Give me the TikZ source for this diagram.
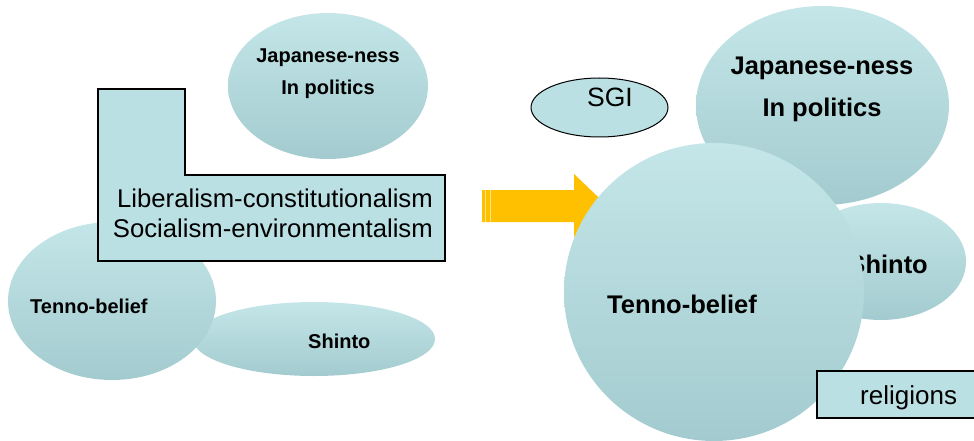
\documentclass[tikz,border=0pt]{standalone}
\usepackage{fontspec}
\setmainfont{Liberation Sans}
\usetikzlibrary{shapes.geometric}
\definecolor{tealtop}{HTML}{C4E6E8}
\definecolor{tealmid}{HTML}{BBE0E3}
\definecolor{tealbot}{HTML}{A3CBCF}
\definecolor{boxfill}{HTML}{BAE0E3}
\definecolor{arrowyellow}{HTML}{FFC000}
\definecolor{arrowstripe}{HTML}{FFE38C}
\begin{document}
\begin{tikzpicture}[x=1pt,y=-1pt,
  blob/.style={ellipse, inner sep=0pt, draw=none,
    top color=tealtop, middle color=tealmid, bottom color=tealbot},
  boldtext/.style={inner sep=0pt, font=\bfseries\fontsize{#1}{#1}\selectfont},
  plaintext/.style={inner sep=0pt, font=\fontsize{#1}{#1}\selectfont},
  outlined/.style={draw=black, line width=1.2pt, fill=boxfill}]
\useasboundingbox (0,0) rectangle (974,441);

% ---- left cluster ----
\node[blob, minimum width=242pt, minimum height=74pt] (shintoL) at (314,339) {};
\node[blob, minimum width=208pt, minimum height=158pt] (tennoL) at (112,301) {};
\node[blob, minimum width=200pt, minimum height=146pt] (japanL) at (328,86) {};

% L-shaped text panel
\draw[outlined] (98,89) -- (185,89) -- (185,175) -- (445,175) -- (445,261) -- (98,261) -- cycle;
\node[plaintext=25.7, anchor=base east] (lib) at (433,207) {Liberalism-constitutionalism};
\node[plaintext=25.7, anchor=base east] (soc) at (433,237) {Socialism-environmentalism};

\node[boldtext=20, anchor=base] (japL1) at (328,63) {Japanese-ness};
\node[boldtext=20, anchor=base] (japL2) at (328,95) {In politics};
\node[boldtext=20, anchor=base west] (tenL) at (30,313) {Tenno-belief};
\node[boldtext=20, anchor=base west] (shiL) at (308,348) {Shinto};

% ---- block arrow ----
\fill[arrowyellow] (482,190) -- (574,190) -- (574,174) -- (607,205.5)
  -- (574,237) -- (574,222) -- (482,222) -- cycle;
\draw[arrowstripe, line width=0.9pt] (485.3,190) -- (485.3,222);
\draw[arrowstripe, line width=0.9pt] (490.3,190) -- (490.3,222);

% ---- right cluster ----
\node[ellipse, draw=black, line width=1pt, fill=boxfill, inner sep=0pt,
  minimum width=137pt, minimum height=59pt] (sgi) at (599.5,107.5) {};
\node[plaintext=26.5, anchor=base] (sgiT) at (610,107) {SGI};

\node[blob, minimum width=253pt, minimum height=199pt] (japR) at (822.5,105.5) {};
\node[boldtext=25.5, anchor=base] (japR1) at (822,75) {Japanese-ness};
\node[boldtext=25.5, anchor=base] (japR2) at (822,117) {In politics};

\node[blob, minimum width=170pt, minimum height=117pt] (shiR) at (881,261.5) {};
\node[boldtext=25.5, anchor=base east] (shiRT) at (928,273) {Shinto};

\node[blob, minimum width=300pt, minimum height=298pt] (tenR) at (714,292) {};
\node[boldtext=25.5, anchor=base west] (tenRT) at (607,313) {Tenno-belief};

\draw[outlined] (817,371) rectangle (985,418);
\node[plaintext=26, anchor=base west] (rel) at (860,404) {religions};
\end{tikzpicture}
\end{document}
